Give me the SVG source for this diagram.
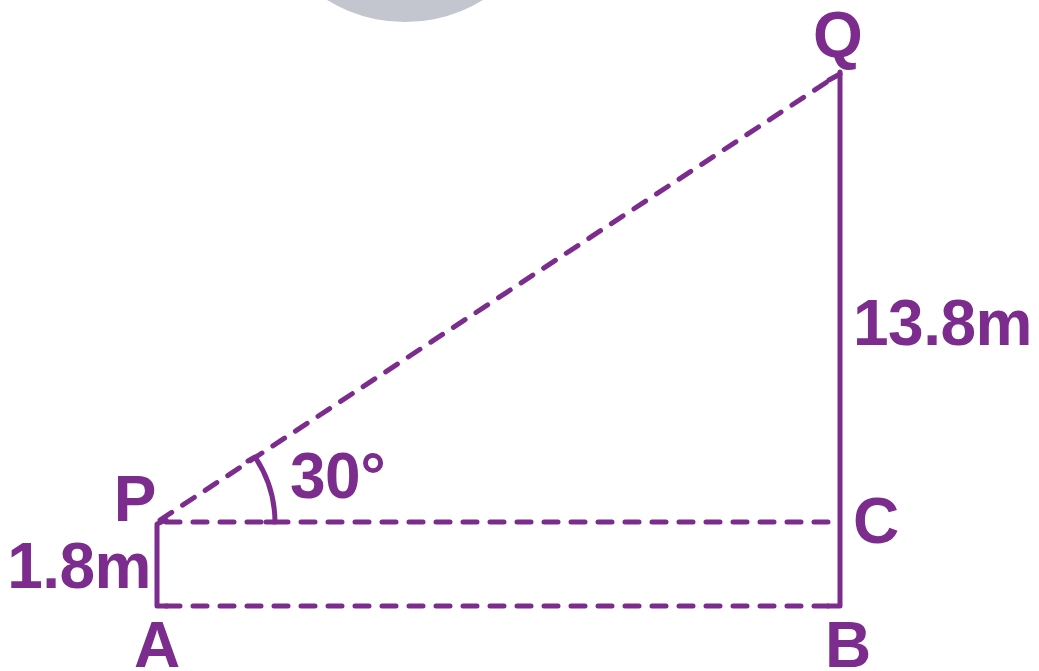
<svg xmlns="http://www.w3.org/2000/svg" width="1039" height="671" viewBox="0 0 1039 671">
<style>
.ln{stroke:#7B2C8D;stroke-width:5;fill:none;stroke-linecap:round;stroke-linejoin:round}
.ds{stroke-dasharray:14 13}
.t{font-family:"Liberation Sans",Arial,sans-serif;font-weight:bold;font-size:64px;fill:#7B2C8D}
</style>
<rect width="1039" height="671" fill="#fff"/>
<circle cx="405" cy="-127" r="149" fill="#C3C6CE"/>
<g id="connectors">
<path class="ln ds" d="M160 520 L830 80"/>
<path class="ln" d="M829 80 L840 74"/>
<path class="ln ds" d="M166 522 L835 522"/>
<path class="ln ds" d="M166 606 L835 606"/>
<path class="ln" d="M840 72 L840 606 L828 606"/>
<path class="ln" d="M166 520 L157 524 L157 606 L167 606"/>
<path class="ln" d="M266 522 L275 522 A118 118 0 0 0 255 457 L248 461"/>
</g>
<g id="Q"><text class="t" x="838" y="57" text-anchor="middle">Q</text></g>
<g id="P"><text class="t" x="135" y="521" text-anchor="middle">P</text></g>
<g id="C"><text class="t" x="876" y="543" text-anchor="middle">C</text></g>
<g id="A"><text class="t" x="157" y="667" text-anchor="middle">A</text></g>
<g id="B"><text class="t" x="848" y="667" text-anchor="middle">B</text></g>
<g id="label-13.8m"><text class="t" x="853" y="345" letter-spacing="-0.5">13.8m</text></g>
<g id="label-1.8m"><text class="t" x="151" y="588" text-anchor="end" letter-spacing="-0.5">1.8m</text></g>
<g id="label-30"><text class="t" x="290" y="498" letter-spacing="-0.5">30°</text></g>
</svg>
